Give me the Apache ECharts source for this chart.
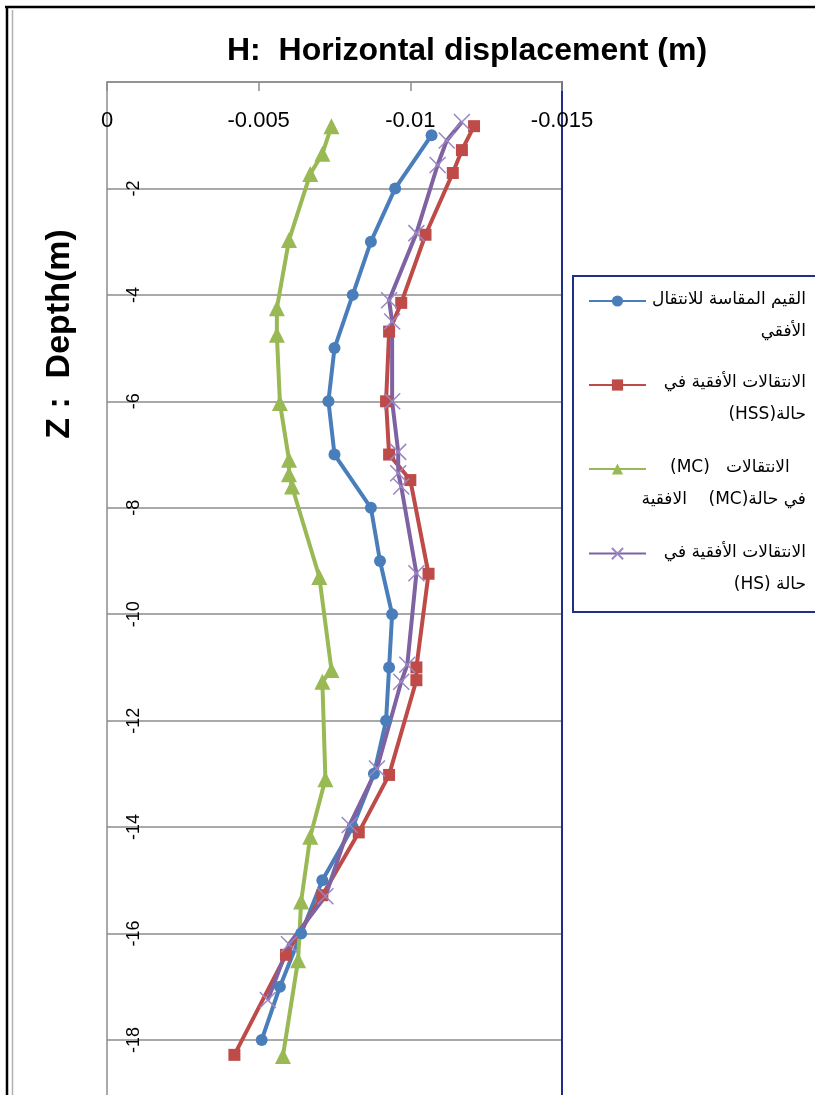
<!DOCTYPE html>
<html>
<head>
<meta charset="utf-8">
<script src="https://cdn.jsdelivr.net/npm/echarts@6/dist/echarts.min.js"></script>
<style>
  html, body { margin: 0; padding: 0; background: #ffffff; overflow: hidden; }
  #chart { width: 815px; height: 1095px; }
</style>
</head>
<body>
<div id="chart"></div>
<script>
// Horizontal displacement profiles against depth (Z, m)

// Measured values
const measuredDepth = [-1, -2, -3, -4, -5, -6, -7, -8, -9, -10, -11, -12, -13, -14, -15, -16, -17, -18];
const measuredDisp  = [-0.0107, -0.0095, -0.0087, -0.0081, -0.0075, -0.0073, -0.0075, -0.0087, -0.0090,
                       -0.0094, -0.0093, -0.0092, -0.0088, -0.0081, -0.0071, -0.0064, -0.0057, -0.0051];

// HSS model
const hssDepth = [-0.83, -1.28, -1.71, -2.87, -4.15, -4.69, -6.0, -7.0, -7.48, -9.24, -11.0, -11.24,
                  -13.02, -14.1, -15.28, -16.4, -18.28];
const hssDisp  = [-0.0121, -0.0117, -0.0114, -0.0105, -0.0097, -0.0093, -0.0092, -0.0093, -0.0100, -0.0106,
                  -0.0102, -0.0102, -0.0093, -0.0083, -0.0071, -0.0059, -0.0042];

// MC model
const mcDepth = [-0.83, -1.35, -1.73, -2.97, -4.25, -4.75, -6.03, -7.1, -7.37, -7.6, -9.3, -11.05, -11.27,
                 -13.1, -14.18, -15.4, -16.5, -18.3];
const mcDisp  = [-0.0074, -0.0071, -0.0067, -0.0060, -0.0056, -0.0056, -0.0057, -0.0060, -0.0060, -0.0061,
                 -0.0070, -0.0074, -0.0071, -0.0072, -0.0067, -0.0064, -0.0063, -0.0058];

// HS model
const hsDepth = [-0.75, -1.1, -1.56, -2.84, -4.1, -4.5, -6.0, -6.95, -7.35, -7.6, -9.23, -10.95, -11.27,
                 -12.9, -13.96, -15.3, -16.2, -17.25];
const hsDisp  = [-0.0117, -0.0112, -0.0109, -0.0102, -0.0093, -0.0094, -0.0094, -0.0096, -0.0096, -0.0097,
                 -0.0102, -0.0099, -0.0097, -0.0089, -0.0080, -0.0072, -0.0060, -0.0053];

// Series names
const seriesNames = [
  'القيم المقاسة للانتقال الأفقي',
  'الانتقالات الأفقية في حالة(HSS)',
  'الانتقالات (MC) في حالة(MC) الافقية',
  'الانتقالات الأفقية في حالة (HS)'
];

// Legend labels, two lines per entry; rtl = right-to-left base direction
const legendLines = [
  [{ t: 'القيم المقاسة للانتقال', rtl: true }, { t: 'الأفقي', rtl: true }],
  [{ t: 'الانتقالات الأفقية في', rtl: true }, { t: 'حالة(HSS)', rtl: true }],
  [{ t: '(MC)   الانتقالات   ', rtl: false }, { t: 'في حالة(MC)    الافقية', rtl: true }],
  [{ t: 'الانتقالات الأفقية في', rtl: true }, { t: 'حالة (HS)', rtl: true }]
];

const colors = ['#4a7ebb', '#be4b48', '#98b954', '#7e62a1'];

const xTicks = { min: -0.015, max: 0, step: 0.005 };
const yTicks = { min: -20, max: 0, step: 2 };

const zip = (xs, ys) => xs.map((x, i) => [x, ys[i]]);

const chart = echarts.init(document.getElementById('chart'), null, { renderer: 'canvas' });

const gray = '#8c8c8c';
const navy = '#1f2f86';
const latinFont = '"Liberation Sans", Arial, sans-serif';
const arabicFont = '"DejaVu Sans", sans-serif';

const legendGraphics = [];
const legendTop = [300, 383, 468, 553];
legendLines.forEach((item, i) => {
  item.forEach((line, j) => {
    legendGraphics.push({
      type: 'text',
      x: 806,
      y: legendTop[i] + j * 32,
      style: {
        text: line.rtl ? '\u202B' + line.t + '\u202C' : line.t,
        font: '17px ' + arabicFont,
        fill: '#000',
        textAlign: 'right',
        textVerticalAlign: 'middle'
      }
    });
  });
});

const crossPath = 'path://M0,0L10,10M10,0L0,10';

const option = {
  animation: false,
  backgroundColor: '#ffffff',
  title: {
    text: 'H:  Horizontal displacement (m)',
    left: 222,
    top: 30,
    textStyle: { fontFamily: latinFont, fontSize: 32, fontWeight: 'bold', color: '#000' }
  },
  legend: {
    orient: 'vertical',
    left: 583,
    top: 290,
    itemWidth: 57,
    itemHeight: 14,
    itemGap: 72,
    formatter: () => ' ',
    textStyle: { fontSize: 12 },
    selectedMode: false,
    data: seriesNames
  },
  grid: {
    left: 107, top: 82, width: 455, height: 1064.4,
    containLabel: false,
    outerBoundsMode: 'none'
  },
  xAxis: {
    type: 'value',
    position: 'top',
    inverse: true,
    min: xTicks.min,
    max: xTicks.max,
    interval: xTicks.step,
    axisLine: { show: true, onZero: false, lineStyle: { color: gray, width: 1.5 } },
    axisTick: { show: true, inside: true, length: 9, lineStyle: { color: gray, width: 1.5 } },
    splitLine: { show: false },
    axisLabel: {
      inside: true,
      margin: 28,
      showMinLabel: true,
      showMaxLabel: true,
      fontFamily: latinFont,
      fontSize: 22,
      color: '#000',
      formatter: v => String(Number(v.toFixed(3)))
    }
  },
  yAxis: [
    {
      type: 'value',
      min: yTicks.min,
      max: yTicks.max,
      interval: yTicks.step,
      axisLine: { show: true, onZero: false, lineStyle: { color: gray, width: 1.5 } },
      axisTick: { show: false },
      splitLine: { show: true, lineStyle: { color: gray, width: 1.5 } },
      axisLabel: {
        inside: true,
        rotate: 90,
        margin: 18,
        fontFamily: latinFont,
        fontSize: 18,
        color: '#000',
        formatter: v => (v === 0 ? '' : String(v))
      }
    },
    {
      // right-hand frame line of the plot
      type: 'value',
      position: 'right',
      min: yTicks.min,
      max: yTicks.max,
      interval: yTicks.step,
      axisLine: { show: true, onZero: false, lineStyle: { color: navy, width: 2 } },
      axisTick: { show: false },
      axisLabel: { show: false },
      splitLine: { show: false }
    }
  ],
  series: [
    {
      name: seriesNames[0],
      type: 'line',
      data: zip(measuredDisp, measuredDepth),
      symbol: 'circle',
      symbolSize: 12,
      lineStyle: { color: colors[0], width: 4 },
      itemStyle: { color: colors[0] }
    },
    {
      name: seriesNames[1],
      type: 'line',
      data: zip(hssDisp, hssDepth),
      symbol: 'rect',
      symbolSize: 12,
      lineStyle: { color: colors[1], width: 4 },
      itemStyle: { color: colors[1] }
    },
    {
      name: seriesNames[2],
      type: 'line',
      data: zip(mcDisp, mcDepth),
      symbol: 'triangle',
      symbolSize: 16,
      lineStyle: { color: colors[2], width: 4 },
      itemStyle: { color: colors[2] }
    },
    {
      name: seriesNames[3],
      type: 'line',
      data: zip(hsDisp, hsDepth),
      symbol: crossPath,
      symbolSize: 16,
      lineStyle: { color: colors[3], width: 4 },
      itemStyle: { color: 'rgba(0,0,0,0)', borderColor: '#9a86c4', borderWidth: 1.5 }
    }
  ],
  graphic: [
    // outer frame
    { type: 'line', shape: { x1: 5, y1: 7, x2: 815, y2: 7 }, style: { stroke: '#000', lineWidth: 2.5 } },
    { type: 'line', shape: { x1: 7, y1: 6, x2: 7, y2: 1095 }, style: { stroke: '#000', lineWidth: 2.5 } },
    { type: 'line', shape: { x1: 12.5, y1: 10, x2: 12.5, y2: 1095 }, style: { stroke: '#b0b0b0', lineWidth: 1.5 } },
    // legend box
    { type: 'rect', shape: { x: 573, y: 276, width: 260, height: 336 },
      style: { fill: 'none', stroke: navy, lineWidth: 2 } },
    // vertical axis title
    {
      type: 'text',
      x: 60, y: 334,
      rotation: Math.PI / 2,
      style: {
        text: 'Z :  Depth(m)',
        font: 'bold 34px ' + latinFont,
        fill: '#000',
        textAlign: 'center',
        textVerticalAlign: 'middle'
      }
    }
  ].concat(legendGraphics)
};

chart.setOption(option);
</script>
</body>
</html>
